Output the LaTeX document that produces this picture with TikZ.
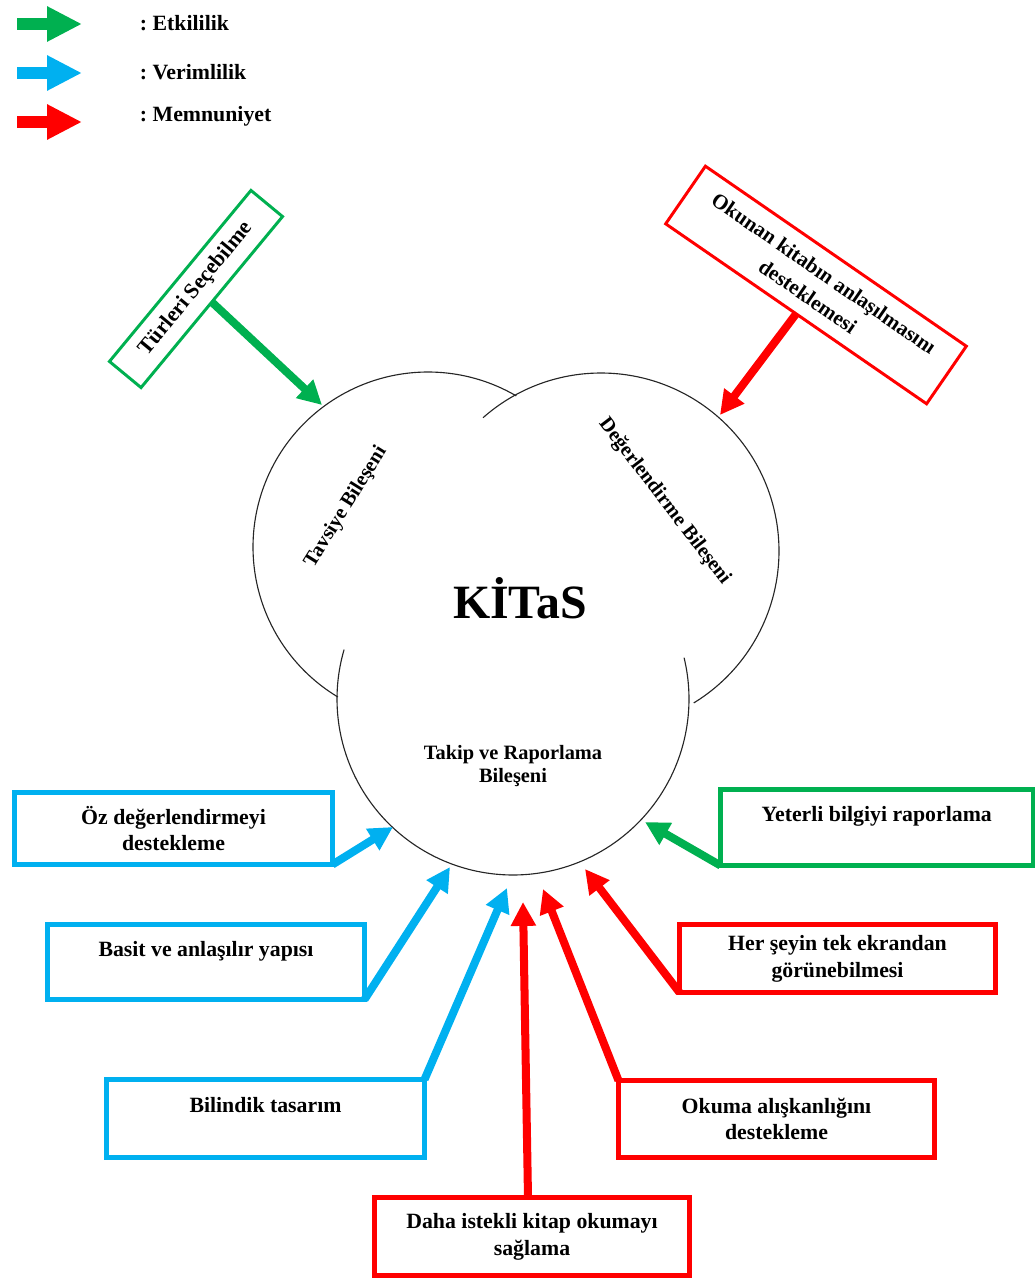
\documentclass[tikz,border=0pt]{standalone}
\usepackage{fontspec}
\setmainfont{Liberation Serif}
\usetikzlibrary{arrows.meta,calc}
\definecolor{kgreen}{RGB}{0,176,80}
\definecolor{kblue}{RGB}{0,176,240}
\definecolor{kred}{RGB}{255,0,0}
\newcommand\pxu{0.025cm}
\frenchspacing
\begin{document}
\begin{tikzpicture}[x=0.025cm,y=-0.025cm,
  every node/.style={font=\bfseries},
  circ/.style={draw=black!85,line width=0.8pt},
  conn/.style={line width=5.7pt,-{Triangle[length=17pt,width=17pt]}},
  legarrow/.style={line width=9.2pt,-{Triangle[length=24.8pt,width=23.4pt]}},
  legtxt/.style={anchor=west,font=\bfseries\fontsize{15.5}{18}\selectfont},
  kbox/.style={draw,line width=3.2pt,outer sep=0pt,align=center,inner sep=2pt,
    font=\bfseries\fontsize{15.5}{19}\selectfont},
  tiltbox/.style={draw,line width=2.1pt,outer sep=0pt,align=center,inner sep=2pt},
  cirlabel/.style={font=\bfseries\fontsize{14.5}{16.5}\selectfont,align=center}]
\useasboundingbox (0,0) rectangle (1035,1281);

% legend
\coordinate (lgAs) at (17,24);  \coordinate (lgAe) at (82,24);
\coordinate (lgBs) at (17,73);  \coordinate (lgBe) at (82,73);
\coordinate (lgCs) at (17,122); \coordinate (lgCe) at (82,122);
\draw[legarrow,kgreen] (lgAs) -- (lgAe);
\draw[legarrow,kblue]  (lgBs) -- (lgBe);
\draw[legarrow,kred]   (lgCs) -- (lgCe);
\node[legtxt] (legE) at (135,23)  {: Etkililik};
\node[legtxt] (legV) at (135,72)  {: Verimlilik};
\node[legtxt] (legM) at (135,116) {: Memnuniyet};

% three overlapping component circles
\draw[circ] plot[domain=121:300.3,samples=150,smooth] ({428+175*cos(\x)},{547+175*sin(\x)});
\draw[circ] plot[domain=228.5:418.6,samples=150,smooth] ({601+178*cos(\x)},{551+178*sin(\x)});
\draw[circ] plot[domain=-13.6:196.3,samples=150,smooth] ({513+176*cos(\x)},{699+176*sin(\x)});

\node[cirlabel,rotate=58] (tavsiye) at (346,507) {Tavsiye Bileşeni};
\node[cirlabel,rotate=-52.5] (deger) at (664.5,501.5) {Değerlendirme Bileşeni};
\node[anchor=base,font=\bfseries\fontsize{34}{38}\selectfont] (kitas) at (520,618) {KİTaS};
\node[cirlabel] (takip) at (513,766) {Takip ve Raporlama\\Bileşeni};

% arrow targets on the circles
\coordinate (tT) at (322,405);
\coordinate (tO) at (720,415);
\coordinate (t1) at (393,827);
\coordinate (t2) at (450,867);
\coordinate (t3) at (507,888);
\coordinate (t4) at (523,902);
\coordinate (t5) at (543,889);
\coordinate (t6) at (585,869);
\coordinate (t7) at (645,822);

% tilted boxes at the top
\node[tiltbox,draw=kgreen,minimum width=222*\pxu,minimum height=41*\pxu,rotate=50.4,
  font=\bfseries\fontsize{15.5}{19}\selectfont] (turler) at (196,289) {Türleri Seçebilme};
\node[tiltbox,draw=kred,minimum width=317*\pxu,minimum height=70*\pxu,rotate=-34.6,
  font=\bfseries\fontsize{15}{20}\selectfont] (okunan) at (816,285) {Okunan kitabın anlaşılmasını\\desteklemesi};
\draw[conn,kgreen] (turler.south) -- (tT);
\draw[conn,kred] (okunan.south) -- (tO);

% boxes around the lower circle
\node[kbox,draw=kblue,minimum width=318*\pxu,minimum height=72*\pxu] (oz) at (173.5,828.5) {Öz değerlendirmeyi\\destekleme};
\node[kbox,draw=kblue,minimum width=317*\pxu,minimum height=75*\pxu] (basit) at (206,962) {Basit ve anlaşılır yapısı\\\mbox{}};
\node[kbox,draw=kblue,minimum width=318*\pxu,minimum height=78*\pxu] (bilindik) at (265.5,1118.5) {Bilindik tasarım\\\mbox{}};
\node[kbox,draw=kred,minimum width=315*\pxu,minimum height=78*\pxu] (daha) at (532,1236.5) {Daha istekli kitap okumayı\\sağlama};
\node[kbox,draw=kred,minimum width=316*\pxu,minimum height=77*\pxu] (okuma) at (776.5,1119) {Okuma alışkanlığını\\destekleme};
\node[kbox,draw=kred,minimum width=316*\pxu,minimum height=68*\pxu] (her) at (837.5,958.5) {Her şeyin tek ekrandan\\görünebilmesi};
\node[kbox,draw=kgreen,minimum width=312.5*\pxu,minimum height=76*\pxu] (yeterli) at (876.75,827.5) {Yeterli bilgiyi raporlama\\\mbox{}};

\draw[conn,kblue] (oz.south east) -- (t1);
\draw[conn,kblue] (basit.south east) -- (t2);
\draw[conn,kblue] (bilindik.north east) -- (t3);
\draw[conn,kred] ([xshift=-4*\pxu]daha.north) -- (t4);
\draw[conn,kred] (okuma.north west) -- (t5);
\draw[conn,kred] (her.south west) -- (t6);
\draw[conn,kgreen] (yeterli.south west) -- (t7);
\end{tikzpicture}
\end{document}
